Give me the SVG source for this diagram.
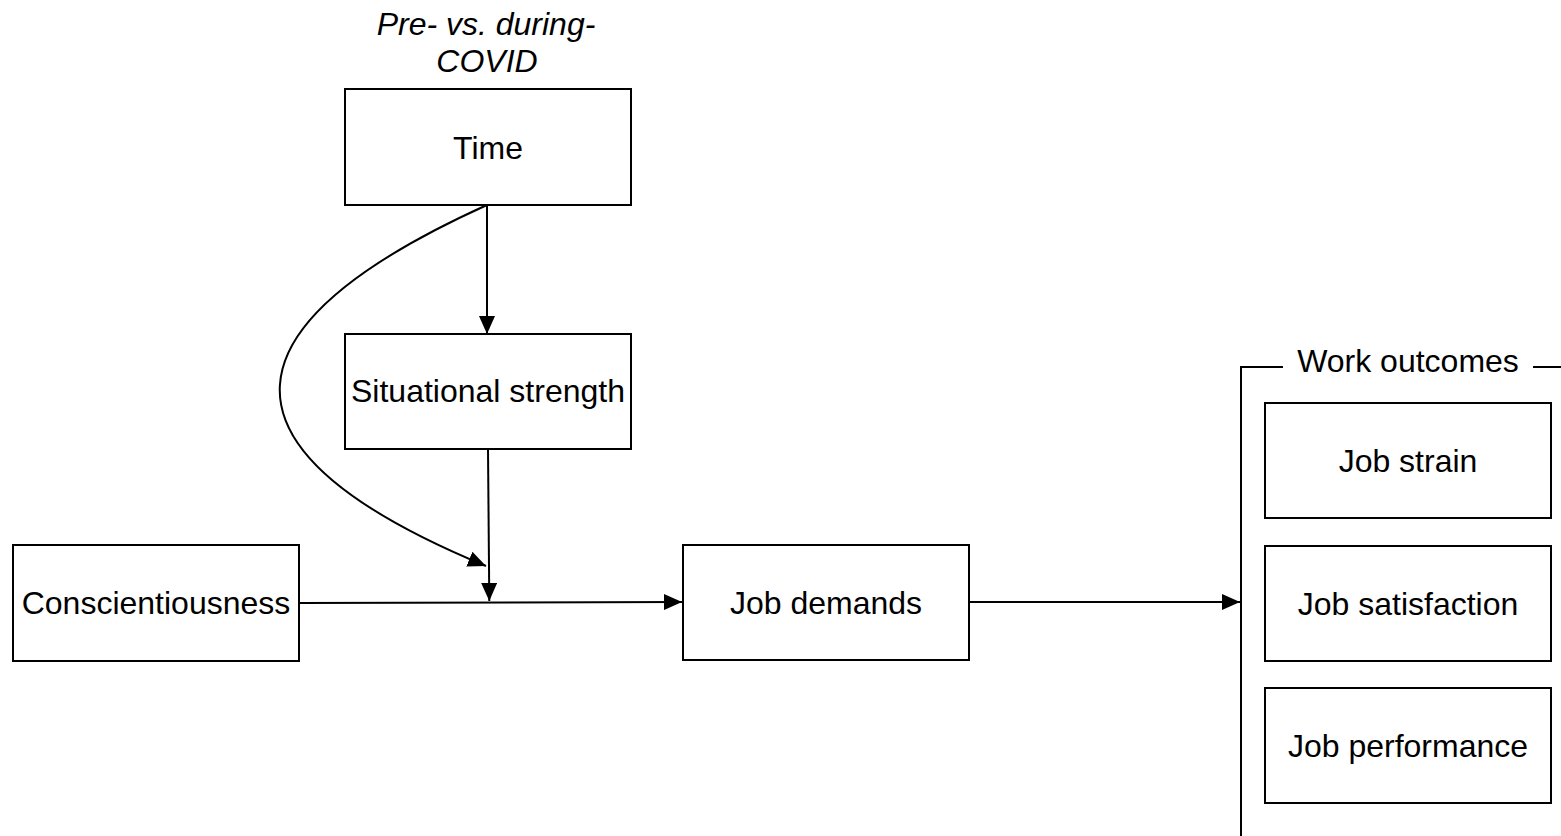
<svg xmlns="http://www.w3.org/2000/svg" width="1561" height="836" viewBox="0 0 1561 836">
<style>
.box{fill:#fff;stroke:#000;stroke-width:2}
.lbl{font-family:"Liberation Sans",Arial,sans-serif;font-size:32px;fill:#000;text-anchor:middle}
.it{font-style:italic}
.edge{fill:none;stroke:#000;stroke-width:2}
</style>
<defs>
<marker id="arr" viewBox="0 0 18 16" refX="18" refY="8" markerWidth="18" markerHeight="16" markerUnits="userSpaceOnUse" orient="auto">
<path d="M0,0 L18,8 L0,16 Z" fill="#000"/>
</marker>
</defs>
<rect width="1561" height="836" fill="#fff"/>
<g id="time-note">
<text class="lbl it" x="486" y="35">Pre- vs. during-</text>
<text class="lbl it" x="487" y="72">COVID</text>
</g>
<g id="time"><rect class="box" x="345" y="89" width="286" height="116"/><text class="lbl" x="488" y="159">Time</text></g>
<g id="situational"><rect class="box" x="345" y="334" width="286" height="115"/><text class="lbl" x="488" y="402">Situational strength</text></g>
<g id="conscientiousness"><rect class="box" x="13" y="545" width="286" height="116"/><text class="lbl" x="156" y="614">Conscientiousness</text></g>
<g id="jobdemands"><rect class="box" x="683" y="545" width="286" height="115"/><text class="lbl" x="826" y="614">Job demands</text></g>
<g id="workoutcomes">
<path class="edge" d="M1241,836 L1241,367 L1283,367 M1533,367 L1561,367"/>
<text class="lbl" x="1408" y="372">Work outcomes</text>
</g>
<g id="jobstrain"><rect class="box" x="1265" y="403" width="286" height="115"/><text class="lbl" x="1408" y="472">Job strain</text></g>
<g id="jobsatisfaction"><rect class="box" x="1265" y="546" width="286" height="115"/><text class="lbl" x="1408" y="615">Job satisfaction</text></g>
<g id="jobperformance"><rect class="box" x="1265" y="688" width="286" height="115"/><text class="lbl" x="1408" y="757">Job performance</text></g>
<g id="connectors">
<path class="edge" d="M487,205 L487,334" marker-end="url(#arr)"/>
<path class="edge" d="M488,449 L489.3,601" marker-end="url(#arr)"/>
<path class="edge" d="M487,205 C224,324 198,447 486,566" marker-end="url(#arr)"/>
<path class="edge" d="M299,603 L682,602" marker-end="url(#arr)"/>
<path class="edge" d="M969,602 L1240,602" marker-end="url(#arr)"/>
</g>
</svg>
